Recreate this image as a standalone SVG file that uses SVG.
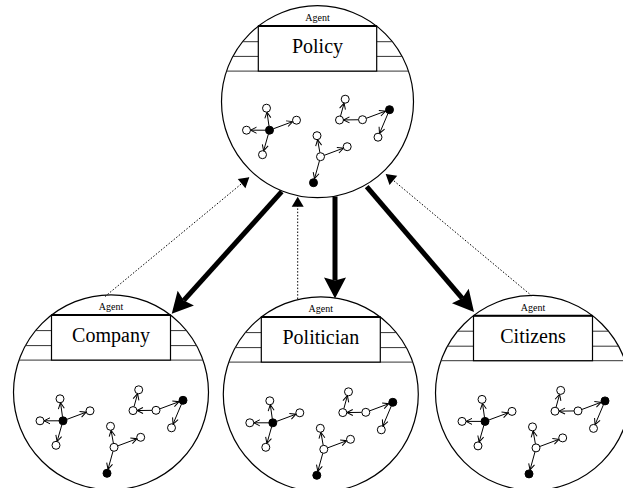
<svg xmlns="http://www.w3.org/2000/svg" xmlns:xlink="http://www.w3.org/1999/xlink" width="623" height="488" viewBox="0 0 623 488">
<style>
.ring{fill:#fff;stroke:#000;stroke-width:1.2}
.box{fill:#fff;stroke:#000;stroke-width:1.2}
.boxtop{stroke:#000;stroke-width:2}
.chord{stroke:#333;stroke-width:1}
.agent{font-family:"Liberation Serif","Times New Roman",serif;font-size:10px;fill:#000;text-anchor:middle}
.label{font-family:"Liberation Serif","Times New Roman",serif;font-size:20px;fill:#000;text-anchor:middle}
.on{fill:#fff;stroke:#000;stroke-width:1}
.fn{fill:#000;stroke:#000;stroke-width:1}
.e{stroke:#000;stroke-width:1;fill:none;marker-end:url(#v)}
.thick{stroke:#000;stroke-width:5;fill:none;marker-end:url(#big)}
.dot{stroke:#000;stroke-width:1;fill:none;stroke-dasharray:1.5,1.8;marker-end:url(#small)}
</style>
<defs>
<marker id="v" markerUnits="userSpaceOnUse" markerWidth="8" markerHeight="8" refX="6" refY="3" orient="auto" overflow="visible">
<path d="M0,0 L6,3 L0,6" fill="none" stroke="#000" stroke-width="1"/>
</marker>
<marker id="big" markerUnits="userSpaceOnUse" markerWidth="24" markerHeight="24" refX="3" refY="11" orient="auto" overflow="visible">
<path d="M0,0 L21,11 L0,22 L3,11 z" fill="#000"/>
</marker>
<marker id="small" markerUnits="userSpaceOnUse" markerWidth="12" markerHeight="14" refX="10" refY="6" orient="auto" overflow="visible">
<path d="M0,0 L10,6 L0,12 z" fill="#000"/>
</marker>
<g id="net">
<line class="e" x1="-48.5" y1="24.5" x2="-50.5" y2="10.4"/>
<line class="e" x1="-44.2" y1="27.1" x2="-24.8" y2="19.9"/>
<line class="e" x1="-52" y1="28.5" x2="-67" y2="28.5"/>
<line class="e" x1="-49.1" y1="32.3" x2="-53.9" y2="49.2"/>
<line class="e" x1="41" y1="18.05" x2="26" y2="18.25"/>
<line class="e" x1="48.5" y1="16.7" x2="68" y2="9.4"/>
<line class="e" x1="70.5" y1="11.7" x2="62" y2="31.8"/>
<line class="e" x1="23" y1="14.5" x2="26.6" y2="1.4"/>
<line class="e" x1="2.4" y1="51" x2="0.1" y2="38"/>
<line class="e" x1="6.5" y1="53.7" x2="26" y2="46.4"/>
<line class="e" x1="2" y1="58.9" x2="-3" y2="77"/>
<circle class="fn" cx="-48" cy="28.5" r="4"/>
<circle class="on" cx="-51" cy="6.5" r="4"/>
<circle class="on" cx="-21" cy="18.5" r="4"/>
<circle class="on" cx="-71" cy="28.5" r="4"/>
<circle class="on" cx="-55" cy="53" r="4"/>
<circle class="fn" cx="72" cy="8" r="4"/>
<circle class="on" cx="45" cy="18" r="4"/>
<circle class="on" cx="22" cy="18.3" r="4"/>
<circle class="on" cx="27.7" cy="-2.5" r="4"/>
<circle class="on" cx="60.5" cy="35.5" r="4"/>
<circle class="on" cx="3" cy="55" r="4"/>
<circle class="on" cx="-0.5" cy="34" r="4"/>
<circle class="on" cx="29.7" cy="45" r="4"/>
<circle class="fn" cx="-4" cy="81" r="4"/>
</g>
</defs>
<rect width="623" height="488" fill="#fff"/>

<g id="policy" transform="translate(317.5,101.7)">
<circle class="ring" r="96"/>
<line class="chord" x1="-74.9" y1="-60" x2="-59.2" y2="-60"/>
<line class="chord" x1="59.2" y1="-60" x2="74.9" y2="-60"/>
<line class="chord" x1="-84.6" y1="-45.3" x2="-59.2" y2="-45.3"/>
<line class="chord" x1="59.2" y1="-45.3" x2="84.6" y2="-45.3"/>
<line class="chord" x1="-91" y1="-30.6" x2="91" y2="-30.6"/>
<rect class="box" x="-59.2" y="-75.6" width="118.4" height="45"/>
<line class="boxtop" x1="-59.2" y1="-75.6" x2="59.2" y2="-75.6"/>
<text class="agent" x="0" y="-80.6">Agent</text>
<text class="label" x="0" y="-48.6">Policy</text>
<use xlink:href="#net" href="#net"/>
</g>

<g id="company" transform="translate(111,392.3)">
<circle class="ring" r="97.5"/>
<line class="chord" x1="-75.5" y1="-61.7" x2="-59.5" y2="-61.7"/>
<line class="chord" x1="59.5" y1="-61.7" x2="75.5" y2="-61.7"/>
<line class="chord" x1="-85.6" y1="-46.7" x2="-59.5" y2="-46.7"/>
<line class="chord" x1="59.5" y1="-46.7" x2="85.6" y2="-46.7"/>
<line class="chord" x1="-92" y1="-32.2" x2="92" y2="-32.2"/>
<rect class="box" x="-59.5" y="-77.2" width="119" height="45"/>
<line class="boxtop" x1="-59.5" y1="-77.2" x2="59.5" y2="-77.2"/>
<text class="agent" x="0" y="-82">Agent</text>
<text class="label" x="0" y="-50.2">Company</text>
<use xlink:href="#net" href="#net"/>
</g>

<g id="politician" transform="translate(320.8,394.3)">
<circle class="ring" r="97.5"/>
<line class="chord" x1="-75.5" y1="-61.7" x2="-59.5" y2="-61.7"/>
<line class="chord" x1="59.5" y1="-61.7" x2="75.5" y2="-61.7"/>
<line class="chord" x1="-85.6" y1="-46.7" x2="-59.5" y2="-46.7"/>
<line class="chord" x1="59.5" y1="-46.7" x2="85.6" y2="-46.7"/>
<line class="chord" x1="-92" y1="-32.2" x2="92" y2="-32.2"/>
<rect class="box" x="-59.5" y="-77.2" width="119" height="45"/>
<line class="boxtop" x1="-59.5" y1="-77.2" x2="59.5" y2="-77.2"/>
<text class="agent" x="0" y="-82">Agent</text>
<text class="label" x="0" y="-50.2">Politician</text>
<use xlink:href="#net" href="#net"/>
</g>

<g id="citizens" transform="translate(533,392.9)">
<circle class="ring" r="97.5"/>
<line class="chord" x1="-75.5" y1="-61.7" x2="-59.5" y2="-61.7"/>
<line class="chord" x1="59.5" y1="-61.7" x2="75.5" y2="-61.7"/>
<line class="chord" x1="-85.6" y1="-46.7" x2="-59.5" y2="-46.7"/>
<line class="chord" x1="59.5" y1="-46.7" x2="85.6" y2="-46.7"/>
<line class="chord" x1="-92" y1="-32.2" x2="92" y2="-32.2"/>
<rect class="box" x="-59.5" y="-77.2" width="119" height="45"/>
<line class="boxtop" x1="-59.5" y1="-77.2" x2="59.5" y2="-77.2"/>
<text class="agent" x="0" y="-82">Agent</text>
<text class="label" x="0" y="-50.2">Citizens</text>
<use xlink:href="#net" href="#net"/>
</g>

<g id="connectors">
<line class="thick" x1="281.7" y1="191.7" x2="183.8" y2="300.4"/>
<line class="thick" x1="335" y1="196.5" x2="335" y2="280.5"/>
<line class="thick" x1="366.7" y1="186.7" x2="462.3" y2="298.3"/>
<line class="dot" x1="105" y1="296.5" x2="249.3" y2="177.3"/>
<line class="dot" x1="297.7" y1="299" x2="297.7" y2="196.7"/>
<line class="dot" x1="532" y1="296" x2="385.7" y2="174"/>
</g>
</svg>
